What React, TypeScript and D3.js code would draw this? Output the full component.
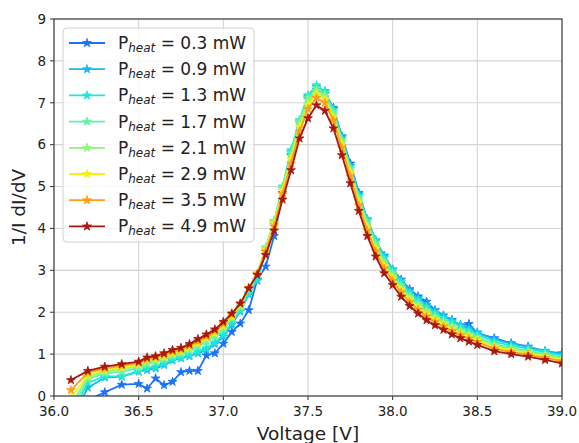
import React from "react";
import * as d3 from "d3";

const voltages = [36.1, 36.2, 36.3, 36.4, 36.5, 36.55, 36.6, 36.65, 36.7, 36.75, 36.8, 36.85, 36.9, 36.95, 37.0, 37.05, 37.1, 37.15, 37.2, 37.25, 37.3, 37.35, 37.4, 37.45, 37.5, 37.55, 37.6, 37.65, 37.7, 37.75, 37.8, 37.85, 37.9, 37.95, 38.0, 38.05, 38.1, 38.15, 38.2, 38.25, 38.3, 38.35, 38.4, 38.45, 38.5, 38.6, 38.7, 38.8, 38.9, 39.0];

const p03 = [-1.0, -0.1, 0.09, 0.27, 0.29, 0.18, 0.42, 0.26, 0.34, 0.57, 0.6, 0.6, 0.97, 1.02, 1.25, 1.53, 1.73, 2.05, 2.77, 3.09, 3.82, 4.85, 5.75, 6.5, 7.1, 7.3, 7.22, 6.88, 6.2, 5.55, 4.85, 4.2, 3.7, 3.35, 3.02, 2.78, 2.55, 2.38, 2.25, 2.05, 1.92, 1.82, 1.68, 1.72, 1.5, 1.38, 1.26, 1.18, 1.06, 1.02];
const p09 = [-0.6, 0.2, 0.44, 0.46, 0.58, 0.62, 0.66, 0.74, 0.85, 0.9, 0.95, 1.02, 1.1, 1.24, 1.42, 1.7, 2.02, 2.42, 2.75, 3.45, 4.1, 4.95, 5.82, 6.55, 7.15, 7.38, 7.28, 6.85, 6.18, 5.5, 4.82, 4.22, 3.72, 3.34, 3.02, 2.77, 2.52, 2.34, 2.18, 2.04, 1.92, 1.8, 1.7, 1.62, 1.52, 1.35, 1.25, 1.17, 1.08, 1.0];
const p13 = [-0.5, 0.32, 0.47, 0.47, 0.6, 0.66, 0.7, 0.78, 0.88, 0.92, 0.98, 1.06, 1.14, 1.28, 1.46, 1.75, 2.05, 2.45, 2.78, 3.5, 4.16, 5.0, 5.87, 6.59, 7.18, 7.42, 7.26, 6.83, 6.14, 5.47, 4.78, 4.2, 3.7, 3.3, 3.0, 2.72, 2.47, 2.29, 2.13, 1.98, 1.86, 1.77, 1.66, 1.56, 1.47, 1.3, 1.2, 1.13, 1.05, 0.97];
const p17 = [-0.35, 0.4, 0.54, 0.58, 0.67, 0.76, 0.81, 0.87, 0.95, 1.0, 1.08, 1.19, 1.3, 1.43, 1.6, 1.85, 2.12, 2.55, 2.9, 3.55, 4.18, 5.0, 5.8, 6.56, 7.12, 7.35, 7.2, 6.78, 6.12, 5.43, 4.74, 4.14, 3.64, 3.22, 2.93, 2.64, 2.4, 2.21, 2.05, 1.91, 1.79, 1.68, 1.58, 1.49, 1.41, 1.24, 1.15, 1.08, 1.0, 0.92];
const p21 = [-0.2, 0.45, 0.58, 0.64, 0.71, 0.81, 0.85, 0.91, 0.99, 1.04, 1.12, 1.23, 1.34, 1.47, 1.64, 1.88, 2.15, 2.56, 2.92, 3.52, 4.15, 4.95, 5.72, 6.5, 7.05, 7.28, 7.15, 6.72, 6.06, 5.38, 4.68, 4.08, 3.58, 3.16, 2.87, 2.58, 2.35, 2.16, 2.0, 1.86, 1.75, 1.64, 1.54, 1.45, 1.37, 1.2, 1.12, 1.05, 0.97, 0.89];
const p29 = [-0.05, 0.5, 0.62, 0.68, 0.75, 0.85, 0.89, 0.95, 1.02, 1.08, 1.16, 1.27, 1.38, 1.51, 1.68, 1.91, 2.18, 2.58, 2.93, 3.5, 4.12, 4.9, 5.65, 6.42, 6.95, 7.2, 7.08, 6.66, 6.0, 5.32, 4.62, 4.02, 3.52, 3.1, 2.81, 2.53, 2.3, 2.11, 1.95, 1.82, 1.71, 1.6, 1.5, 1.42, 1.34, 1.17, 1.09, 1.02, 0.94, 0.86];
const p35 = [0.14, 0.56, 0.66, 0.72, 0.79, 0.88, 0.92, 0.98, 1.06, 1.11, 1.2, 1.31, 1.42, 1.55, 1.72, 1.94, 2.2, 2.58, 2.92, 3.45, 4.05, 4.82, 5.55, 6.32, 6.85, 7.12, 7.0, 6.58, 5.92, 5.24, 4.55, 3.95, 3.45, 3.04, 2.75, 2.47, 2.24, 2.06, 1.9, 1.77, 1.66, 1.55, 1.45, 1.37, 1.29, 1.13, 1.05, 0.99, 0.91, 0.83];
const p49 = [0.38, 0.6, 0.7, 0.76, 0.82, 0.92, 0.95, 1.02, 1.1, 1.15, 1.24, 1.36, 1.47, 1.59, 1.77, 1.97, 2.21, 2.57, 2.89, 3.37, 3.95, 4.69, 5.39, 6.15, 6.63, 6.94, 6.81, 6.39, 5.75, 5.08, 4.42, 3.82, 3.33, 2.93, 2.65, 2.37, 2.15, 1.97, 1.81, 1.69, 1.58, 1.47, 1.38, 1.3, 1.22, 1.07, 1.0, 0.94, 0.86, 0.78];

const powers = ["0.3", "0.9", "1.3", "1.7", "2.1", "2.9", "3.5", "4.9"];
const seriesValues = [p03, p09, p13, p17, p21, p29, p35, p49];
const colors = ["#1a72f5", "#14b8f2", "#1de8d8", "#62f2a6", "#8ef57a", "#f2f216", "#ff9c1a", "#a8180f"];

const xTicks = [36.0, 36.5, 37.0, 37.5, 38.0, 38.5, 39.0];
const yTicks = [0, 1, 2, 3, 4, 5, 6, 7, 8, 9];

const W = 579, H = 443;
const L = 54, R = 562, T = 19, B = 396;
const FONT = "DejaVu Sans, sans-serif";

export default function App() {
  const x = d3.scaleLinear().domain([36, 39]).range([L, R]);
  const y = d3.scaleLinear().domain([0, 9]).range([B, T]);
  const line = d3.line<number>().x((_, i) => x(voltages[i])).y((v) => y(v));
  const star = d3.symbol().type(d3.symbolStar).size(24)();

  const legX = 63, legY = 28, legW = 191, legH = 214;
  const rowY0 = 43, rowStep = 26.2;

  return (
    <svg width={W} height={H} style={{ position: "absolute", left: 0, top: 0, background: "#fff" }} fontFamily={FONT}>
      <defs>
        <clipPath id="plotclip">
          <rect x={L} y={T} width={R - L} height={B - T} />
        </clipPath>
      </defs>
      {/* grid */}
      {xTicks.map((t) => (
        <line key={"gx" + t} x1={x(t)} x2={x(t)} y1={T} y2={B} stroke="#d4d4d4" strokeWidth={1.1} />
      ))}
      {yTicks.map((t) => (
        <line key={"gy" + t} x1={L} x2={R} y1={y(t)} y2={y(t)} stroke="#d4d4d4" strokeWidth={1.1} />
      ))}
      {/* series */}
      <g clipPath="url(#plotclip)">
        {seriesValues.map((vals, si) => (
          <g key={"s" + si}>
            <path d={line(vals) || ""} fill="none" stroke={colors[si]} strokeWidth={1.8} />
            {vals.map((v, i) => (
              <path key={i} d={star || ""} transform={`translate(${x(voltages[i])},${y(v)})`} fill={colors[si]} stroke={colors[si]} strokeWidth={0.8} />
            ))}
          </g>
        ))}
      </g>
      {/* spines */}
      <rect x={L} y={T} width={R - L} height={B - T} fill="none" stroke="#333" strokeWidth={1.1} />
      {/* ticks */}
      {xTicks.map((t) => (
        <g key={"tx" + t}>
          <line x1={x(t)} x2={x(t)} y1={B} y2={B + 4} stroke="#333" strokeWidth={1} />
          <text x={x(t)} y={B + 20} textAnchor="middle" fontSize={13.5} fill="#222">{t.toFixed(1)}</text>
        </g>
      ))}
      {yTicks.map((t) => (
        <g key={"ty" + t}>
          <line x1={L - 4} x2={L} y1={y(t)} y2={y(t)} stroke="#333" strokeWidth={1} />
          <text x={L - 8} y={y(t) + 4.8} textAnchor="end" fontSize={13.5} fill="#222">{t}</text>
        </g>
      ))}
      {/* axis labels */}
      <text x={(L + R) / 2} y={440} textAnchor="middle" fontSize={18.5} fill="#222">Voltage [V]</text>
      <text transform={`translate(25,${(T + B) / 2}) rotate(-90)`} textAnchor="middle" fontSize={18.5} fill="#222">1/I dI/dV</text>
      {/* legend */}
      <rect x={legX} y={legY} width={legW} height={legH} rx={4} fill="#fff" fillOpacity={0.8} stroke="#d0d0d0" strokeWidth={1} />
      {powers.map((p, i) => {
        const ry = rowY0 + i * rowStep;
        return (
          <g key={"leg" + p}>
            <line x1={69} x2={105} y1={ry} y2={ry} stroke={colors[i]} strokeWidth={1.8} />
            <path d={star || ""} transform={`translate(87,${ry})`} fill={colors[i]} stroke={colors[i]} strokeWidth={0.8} />
            <text x={118} y={ry + 6} fontSize={17} fill="#222">
              P
              <tspan fontSize={12} fontStyle="italic" dy={3}>heat</tspan>
              <tspan dy={-3}>{` = ${p} mW`}</tspan>
            </text>
          </g>
        );
      })}
    </svg>
  );
}
